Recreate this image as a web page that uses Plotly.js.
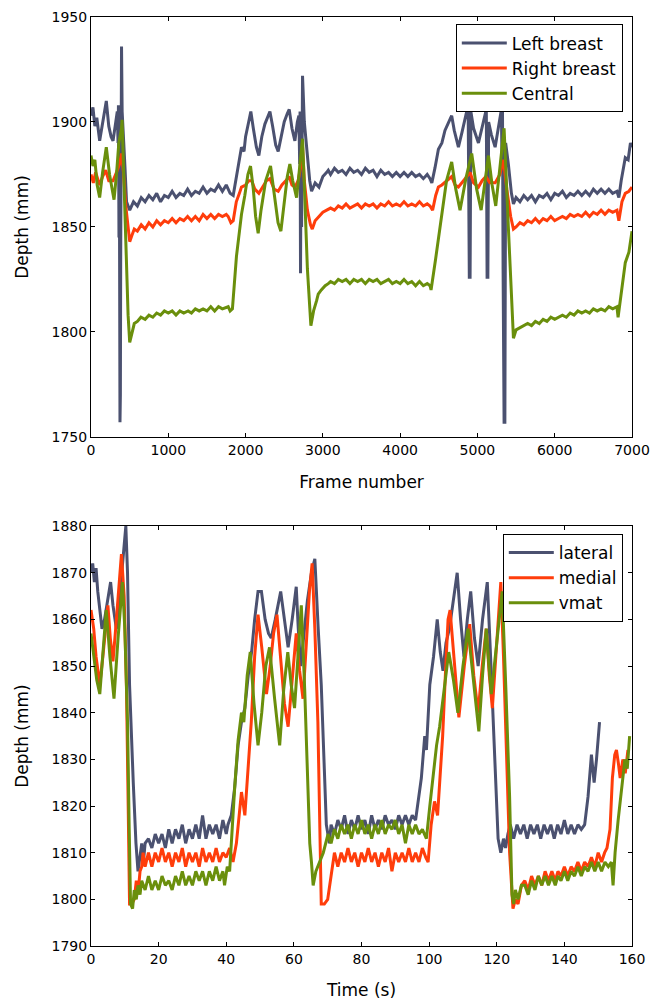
<!DOCTYPE html>
<html>
<head>
<meta charset="utf-8">
<script src="https://cdn.plot.ly/plotly-3.0.1.min.js"></script>
<style>html,body{margin:0;padding:0;background:#fff}#chart{width:662px;height:1000px}</style>
</head>
<body>
<div id="chart"></div>
<script>
// ---------- Top panel: depth vs frame number ----------
const leftBreast = [[0,1903],[25,1907],[50,1898],[75,1902],[112,1891],[150,1900],[198,1910],[230,1898],[260,1893],[285,1891],[320,1900],[340,1905],[350,1890],[355,1908],[362,1845],[366,1900],[370,1835],[375,1757],[380,1770],[384,1833],[388,1910],[395,1936],[403,1905],[420,1895],[440,1878],[460,1862],[501,1858],[550,1862],[600,1860],[650,1864],[700,1862],[750,1865],[800,1863],[850,1866],[900,1862],[950,1865],[1000,1864],[1050,1867],[1100,1864],[1150,1866],[1200,1865],[1250,1868],[1300,1865],[1350,1867],[1400,1866],[1450,1869],[1500,1866],[1550,1868],[1600,1867],[1650,1870],[1700,1867],[1750,1870],[1775,1868],[1800,1866],[1840,1865],[1880,1874],[1920,1884],[1947,1888],[1980,1886],[2000,1893],[2040,1900],[2068,1905],[2100,1897],[2140,1888],[2172,1884],[2210,1893],[2250,1899],[2290,1903],[2315,1905],[2350,1898],[2390,1889],[2422,1886],[2460,1893],[2500,1900],[2540,1904],[2565,1906],[2600,1897],[2638,1891],[2670,1900],[2690,1903],[2700,1880],[2705,1905],[2711,1828],[2718,1890],[2725,1850],[2737,1922],[2760,1900],[2800,1885],[2830,1872],[2854,1867],[2900,1871],[2950,1869],[3000,1874],[3050,1876],[3070,1877],[3100,1875],[3150,1878],[3200,1876],[3250,1877],[3300,1875],[3350,1878],[3400,1876],[3450,1877],[3500,1875],[3550,1878],[3600,1876],[3650,1877],[3700,1874],[3750,1877],[3800,1875],[3850,1876],[3900,1874],[3950,1876],[4000,1874],[4050,1876],[4100,1874],[4150,1876],[4200,1874],[4250,1875],[4300,1873],[4350,1875],[4387,1873],[4410,1871],[4450,1878],[4495,1887],[4540,1890],[4580,1896],[4630,1900],[4667,1903],[4700,1896],[4754,1888],[4800,1895],[4850,1903],[4880,1908],[4895,1826],[4905,1826],[4915,1905],[4950,1897],[5013,1890],[5060,1898],[5100,1904],[5115,1906],[5125,1826],[5135,1826],[5145,1900],[5180,1894],[5229,1888],[5270,1898],[5310,1906],[5318,1880],[5324,1909],[5332,1830],[5345,1757],[5355,1757],[5365,1890],[5400,1880],[5440,1866],[5466,1861],[5500,1864],[5550,1862],[5600,1865],[5650,1863],[5700,1865],[5750,1862],[5800,1865],[5850,1864],[5900,1866],[5950,1863],[6000,1866],[6049,1865],[6100,1867],[6150,1864],[6200,1866],[6250,1865],[6300,1867],[6350,1865],[6400,1867],[6450,1865],[6500,1868],[6550,1866],[6600,1868],[6650,1866],[6700,1868],[6750,1866],[6805,1867],[6830,1864],[6860,1872],[6913,1883],[6950,1882],[6980,1890],[7000,1888]];

const rightBreast = [[0,1875],[30,1871],[60,1876],[112,1870],[150,1874],[190,1877],[230,1872],[285,1872],[330,1876],[370,1880],[395,1885],[420,1876],[450,1860],[480,1848],[501,1843],[530,1846],[560,1849],[600,1848],[650,1851],[700,1849],[750,1852],[800,1850],[850,1853],[900,1851],[950,1853],[1000,1852],[1050,1854],[1100,1852],[1150,1854],[1200,1853],[1250,1855],[1300,1853],[1350,1855],[1400,1853],[1450,1856],[1500,1854],[1550,1856],[1600,1854],[1650,1856],[1700,1855],[1750,1856],[1775,1855],[1810,1852],[1840,1853],[1880,1862],[1920,1866],[1947,1869],[2000,1870],[2040,1872],[2080,1872],[2120,1868],[2172,1866],[2220,1869],[2270,1872],[2315,1873],[2370,1868],[2422,1867],[2470,1870],[2520,1872],[2565,1874],[2600,1870],[2640,1869],[2680,1872],[2710,1878],[2737,1888],[2760,1872],[2800,1858],[2840,1851],[2863,1849],[2900,1853],[2950,1855],[3000,1857],[3050,1858],[3100,1859],[3150,1858],[3200,1860],[3250,1859],[3300,1861],[3350,1859],[3400,1860],[3450,1861],[3500,1859],[3550,1861],[3600,1860],[3650,1861],[3700,1859],[3750,1861],[3800,1860],[3850,1862],[3900,1860],[3950,1861],[4000,1860],[4050,1862],[4100,1860],[4150,1861],[4200,1860],[4250,1862],[4300,1860],[4350,1861],[4387,1860],[4420,1858],[4460,1865],[4495,1869],[4540,1870],[4600,1872],[4667,1874],[4710,1870],[4754,1869],[4820,1872],[4905,1876],[4950,1871],[5013,1869],[5060,1872],[5110,1874],[5160,1871],[5229,1871],[5290,1875],[5337,1882],[5380,1868],[5430,1855],[5466,1849],[5500,1850],[5550,1852],[5600,1851],[5650,1853],[5700,1852],[5750,1854],[5800,1852],[5850,1854],[5900,1853],[5950,1855],[6000,1853],[6049,1854],[6100,1855],[6150,1854],[6200,1856],[6250,1855],[6300,1856],[6350,1855],[6400,1857],[6450,1855],[6500,1857],[6550,1856],[6600,1858],[6650,1856],[6700,1858],[6750,1857],[6805,1858],[6830,1853],[6870,1862],[6913,1866],[6960,1867],[7000,1869]];

const central = [[0,1884],[25,1879],[50,1882],[80,1870],[112,1864],[150,1876],[198,1888],[240,1875],[298,1863],[330,1875],[360,1890],[395,1897],[402,1901],[420,1880],[450,1840],[480,1808],[501,1795],[530,1800],[560,1804],[600,1805],[646,1807],[700,1806],[750,1808],[800,1807],[850,1809],[900,1808],[950,1810],[1000,1809],[1050,1810],[1100,1808],[1150,1810],[1200,1809],[1256,1810],[1300,1809],[1350,1811],[1400,1810],[1450,1811],[1500,1810],[1550,1812],[1600,1810],[1650,1812],[1700,1811],[1775,1812],[1800,1810],[1830,1811],[1882,1836],[1947,1856],[1990,1865],[2030,1875],[2064,1879],[2100,1868],[2130,1855],[2163,1847],[2200,1858],[2260,1872],[2323,1879],[2370,1865],[2420,1852],[2457,1848],[2500,1862],[2540,1874],[2573,1880],[2610,1872],[2660,1864],[2700,1878],[2737,1892],[2760,1870],[2800,1830],[2845,1803],[2880,1810],[2920,1815],[2940,1818],[2980,1820],[3030,1822],[3070,1823],[3100,1824],[3150,1823],[3200,1825],[3250,1824],[3300,1825],[3350,1823],[3400,1825],[3450,1824],[3500,1825],[3550,1823],[3600,1825],[3650,1824],[3700,1825],[3750,1823],[3800,1824],[3850,1825],[3900,1823],[3950,1824],[4000,1823],[4050,1825],[4100,1823],[4150,1824],[4200,1822],[4250,1824],[4300,1822],[4350,1823],[4387,1822],[4400,1820],[4460,1835],[4516,1850],[4600,1872],[4667,1881],[4720,1868],[4775,1858],[4850,1873],[4926,1885],[4990,1868],[5048,1858],[5100,1872],[5143,1884],[5190,1870],[5237,1860],[5290,1878],[5345,1897],[5400,1850],[5466,1797],[5500,1801],[5550,1802],[5604,1803],[5650,1804],[5700,1803],[5750,1805],[5800,1804],[5850,1806],[5900,1805],[5950,1807],[6000,1806],[6049,1807],[6100,1808],[6150,1807],[6200,1809],[6250,1808],[6300,1810],[6350,1809],[6400,1810],[6450,1809],[6500,1811],[6550,1810],[6600,1811],[6650,1810],[6700,1812],[6750,1811],[6805,1812],[6820,1807],[6850,1815],[6913,1833],[6960,1838],[7000,1848]];

// ---------- Bottom panel: depth vs time ----------
const lateral = [[0,1870],[0.5,1872],[1,1868],[1.5,1871],[2,1866],[3.25,1858],[4,1860],[5,1865],[5.8,1868],[6.5,1863],[7.5,1858],[8.5,1865],[9.5,1874],[10.3,1880],[10.8,1870],[11.4,1846],[12.5,1825],[13.3,1812],[13.9,1806],[14.5,1810],[15,1812],[15.5,1808],[16,1812],[17,1813],[18,1811],[19,1814],[20,1812],[21,1814],[22,1811],[23,1815],[24,1812],[25,1815],[26,1813],[27,1816],[28,1812],[29,1815],[30,1813],[31,1816],[32,1813],[33,1818],[34,1813],[35,1816],[36,1814],[37,1816],[38,1813],[39,1817],[40,1814],[40.5,1816],[41.5,1818],[42.5,1824],[43.5,1833],[44.5,1838],[45.5,1841],[46.5,1848],[47.5,1853],[48.4,1860],[49.4,1866],[50.4,1866],[51.5,1860],[52.5,1857],[53.3,1856],[54.5,1860],[55.5,1864],[56.1,1866],[57.2,1860],[58.3,1854],[59.5,1860],[60.7,1867],[61.3,1858],[62,1850],[63,1857],[64,1864],[65.2,1870],[66.2,1873],[67.2,1858],[68.1,1846],[69,1828],[69.6,1816],[70.5,1812],[71,1816],[72,1814],[73,1817],[74,1815],[75,1818],[76,1814],[77,1817],[78,1815],[79,1818],[80,1815],[81,1817],[82,1814],[83,1818],[84,1815],[85,1817],[86,1815],[87,1818],[88,1816],[89,1817],[90,1815],[91,1818],[92,1816],[93,1818],[94,1816],[95,1818],[96,1817],[96.7,1821],[97.7,1826],[98.7,1835],[99.2,1832],[100.2,1846],[101.3,1852],[102.4,1860],[103.3,1853],[104.1,1849],[105,1855],[106,1858],[107.2,1864],[108.3,1870],[109.3,1860],[110.3,1852],[111.3,1860],[112.3,1866],[113.4,1856],[114.5,1850],[115.8,1860],[117.2,1868],[118,1855],[118.9,1838],[119.7,1825],[120.4,1813],[121.2,1810],[122,1813],[122.6,1811],[123.3,1814],[124,1816],[125,1813],[126,1816],[127,1814],[128,1816],[129,1813],[130,1816],[131,1814],[132,1816],[133,1813],[134,1816],[135,1814],[136,1816],[137,1813],[138,1816],[139,1814],[140,1817],[141,1814],[142,1816],[143,1814],[144,1816],[145,1815],[146,1816],[147,1822],[148,1831],[148.8,1825],[149.5,1830],[150.4,1838]];

const medial = [[0,1862],[0.8,1858],[1.5,1852],[2.6,1846],[3.5,1852],[4.2,1858],[5,1863],[5.7,1856],[6.5,1851],[7.3,1858],[8.2,1866],[9,1874],[9.8,1865],[10.5,1845],[11,1820],[11.4,1799],[12,1799],[12.8,1800],[13.4,1804],[14,1802],[14.5,1806],[15,1807],[15.4,1810],[16,1807],[17,1810],[18,1807],[19,1810],[20,1808],[21,1811],[22,1808],[23,1810],[24,1807],[25,1810],[26,1808],[27,1811],[28,1807],[29,1810],[30,1808],[31,1810],[32,1807],[33,1811],[34,1808],[35,1810],[36,1808],[37,1811],[38,1808],[39,1810],[40,1809],[41,1811],[42,1808],[43,1812],[44,1820],[44.5,1823],[45.5,1818],[46.4,1828],[47.4,1838],[48.4,1852],[49.4,1861],[50.5,1854],[51.9,1844],[53,1850],[54,1857],[55,1861],[56,1852],[57.2,1842],[58.3,1837],[59.5,1848],[60.7,1857],[61.7,1849],[62.7,1843],[63.7,1855],[64.6,1866],[65.4,1872],[66.2,1858],[67.1,1838],[67.6,1815],[68.1,1799],[69,1799],[70,1800],[71,1805],[72,1810],[73,1807],[74,1810],[75,1808],[76,1811],[77,1808],[78,1810],[79,1807],[80,1810],[81,1808],[82,1811],[83,1808],[84,1810],[85,1807],[86,1810],[87,1808],[88,1811],[89,1806],[90,1810],[91,1808],[92,1810],[93,1808],[94,1811],[95,1808],[96,1810],[97,1808],[98,1811],[99,1809],[99.7,1808],[100.6,1816],[101.6,1821],[102.5,1818],[103.2,1826],[104,1835],[104.8,1848],[105.6,1860],[106.2,1862],[107.5,1850],[108.8,1839],[110.4,1850],[112,1859],[113.2,1848],[114.5,1840],[115.7,1850],[116.9,1858],[117.8,1848],[118.7,1841],[120,1855],[121.2,1868],[122,1852],[122.8,1832],[123.8,1810],[124.8,1798],[125.5,1800],[126.3,1799],[127.3,1803],[128.3,1804],[129.3,1802],[130.3,1805],[131.3,1803],[132.3,1805],[133.3,1803],[134.3,1806],[135.3,1804],[136.3,1806],[137.3,1804],[138.1,1806],[139,1805],[140,1807],[141,1805],[142,1807],[143,1806],[144,1808],[145,1806],[146,1808],[147,1807],[148,1809],[149,1807],[150,1810],[151,1808],[151.9,1810],[152.6,1811],[153.5,1815],[154.2,1826],[154.9,1831],[155.4,1832],[156,1829],[156.5,1826],[157.3,1830],[158,1827],[158.8,1832]];

const vmat = [[0,1857],[0.8,1852],[1.7,1847],[2.6,1844],[3.5,1853],[4.5,1862],[5.6,1852],[6.8,1843],[8,1856],[9.3,1868],[10,1858],[10.8,1838],[11.3,1815],[11.7,1799],[12.3,1798],[12.8,1802],[13.4,1800],[13.9,1803],[14.5,1801],[15,1804],[16,1802],[17,1805],[18,1802],[19,1804],[20,1802],[21,1805],[22,1803],[23,1804],[24,1802],[25,1805],[26,1803],[27,1806],[28,1803],[29,1805],[30,1803],[31,1806],[32,1804],[33,1806],[34,1803],[35,1806],[36,1804],[37,1807],[38,1804],[39,1806],[39.5,1803],[40.3,1807],[41,1806],[41.7,1815],[42.5,1824],[43.5,1834],[44.5,1840],[45.2,1838],[46.2,1848],[47.1,1853],[48.2,1842],[49.4,1833],[50.5,1840],[51.7,1850],[52.8,1854],[54.3,1843],[55.8,1833],[57,1845],[58.2,1853],[59.2,1846],[60.2,1841],[61.2,1852],[62.2,1863],[63.2,1845],[64.2,1824],[64.7,1812],[65.2,1808],[65.7,1803],[66.5,1806],[67.6,1808],[68.7,1810],[70.1,1814],[71,1812],[72,1815],[73,1813],[74,1816],[75,1814],[76,1816],[77,1813],[78,1816],[79,1814],[80,1817],[81,1814],[82,1816],[83,1813],[84,1816],[85,1814],[86,1817],[87,1814],[88,1816],[89,1815],[90,1817],[91,1814],[92,1816],[93,1812],[94,1816],[95,1814],[96,1816],[97,1814],[98,1815],[99.2,1813],[100.2,1820],[101.2,1827],[102.2,1833],[103.1,1837],[104.1,1843],[105.1,1849],[105.8,1853],[107.2,1847],[108.5,1840],[110,1850],[111.5,1858],[113.1,1847],[114.7,1836],[115.8,1848],[116.9,1858],[117.7,1850],[118.4,1844],[120,1855],[121.6,1866],[122.7,1845],[123.8,1822],[124.5,1801],[125,1799],[125.5,1802],[126.3,1800],[127.3,1803],[128.3,1803],[129.3,1801],[130.3,1804],[131.3,1802],[132.3,1805],[133.3,1803],[134.3,1805],[135.3,1803],[136.3,1805],[137.3,1803],[138.1,1805],[139,1804],[140,1806],[141,1804],[142,1806],[143,1805],[144,1807],[145,1805],[146,1807],[147,1806],[148,1808],[149,1806],[150,1808],[151,1806],[152,1808],[153,1807],[153.9,1808],[154.4,1803],[155,1810],[155.9,1817],[157,1824],[157.9,1830],[158.6,1828],[159.3,1835]];

const topNames = ['Left breast', 'Right breast', 'Central'];
const bottomNames = ['lateral', 'medial', 'vmat'];
const colors = ['#4b5170', '#ff3d0b', '#6a8f0c'];

const FONT = 'DejaVu Sans, sans-serif';
function trace(pairs, name, color, xa, ya, legend) {
  return {
    x: pairs.map(p => p[0]), y: pairs.map(p => p[1]),
    type: 'scatter', mode: 'lines', name: name,
    line: {color: color, width: 3},
    xaxis: xa, yaxis: ya, legend: legend
  };
}
const data = [
  trace(leftBreast, topNames[0], colors[0], 'x', 'y', 'legend'),
  trace(rightBreast, topNames[1], colors[1], 'x', 'y', 'legend'),
  trace(central, topNames[2], colors[2], 'x', 'y', 'legend'),
  trace(lateral, bottomNames[0], colors[0], 'x2', 'y2', 'legend2'),
  trace(medial, bottomNames[1], colors[1], 'x2', 'y2', 'legend2'),
  trace(vmat, bottomNames[2], colors[2], 'x2', 'y2', 'legend2')
];

const axisCommon = {
  showline: true, linecolor: '#000', linewidth: 1, mirror: 'ticks',
  ticks: 'inside', ticklen: 4, tickcolor: '#000', tickwidth: 1,
  showgrid: false, zeroline: false,
  tickfont: {family: FONT, size: 14, color: '#000'}
};
const legendCommon = {
  font: {family: FONT, size: 17, color: '#000'},
  bordercolor: '#000', borderwidth: 1, bgcolor: '#fff',
  xanchor: 'right', yanchor: 'top', tracegroupgap: 0, itemwidth: 45
};

const layout = {
  width: 662, height: 1000,
  margin: {l: 91, r: 30, t: 17, b: 54},
  paper_bgcolor: '#fff', plot_bgcolor: '#fff',
  font: {family: FONT, color: '#000'},
  xaxis: Object.assign({}, axisCommon, {domain: [0, 1], anchor: 'y', range: [0, 7000], dtick: 1000, tick0: 0,
    title: {text: 'Frame number', font: {family: FONT, size: 17, color: '#000'}, standoff: 19}}),
  yaxis: Object.assign({}, axisCommon, {domain: [0.548, 1], anchor: 'x', range: [1750, 1950], dtick: 50, tick0: 1750,
    title: {text: 'Depth (mm)', font: {family: FONT, size: 17, color: '#000'}, standoff: 18}}),
  xaxis2: Object.assign({}, axisCommon, {domain: [0, 1], anchor: 'y2', range: [0, 160], dtick: 20, tick0: 0,
    title: {text: 'Time (s)', font: {family: FONT, size: 17, color: '#000'}, standoff: 18}}),
  yaxis2: Object.assign({}, axisCommon, {domain: [0, 0.452], anchor: 'x2', range: [1790, 1880], dtick: 10, tick0: 1790,
    title: {text: 'Depth (mm)', font: {family: FONT, size: 17, color: '#000'}, standoff: 18}}),
  legend: Object.assign({}, legendCommon, {x: 0.983, y: 0.992}),
  legend2: Object.assign({}, legendCommon, {x: 0.983, y: 0.4435}),
  showlegend: true
};

Plotly.newPlot('chart', data, layout, {displayModeBar: false, staticPlot: true});
</script>
</body>
</html>
